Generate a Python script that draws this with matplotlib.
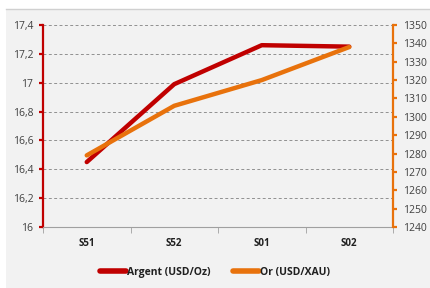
import matplotlib
matplotlib.use('Agg')
import matplotlib.pyplot as plt
from matplotlib.patches import Rectangle
from matplotlib.ticker import FuncFormatter, MultipleLocator
import numpy as np

plt.rcParams['font.family'] = ['Open Sans', 'DejaVu Sans']

# Data
periods = ['S51', 'S52', 'S01', 'S02']
argent = [16.45, 16.99, 17.26, 17.25]   # USD/Oz, left axis
gold = [1279, 1306, 1320, 1338]         # USD/XAU, right axis

RED = '#c00000'
ORANGE = '#e8720c'
TXT = '#404040'

fig = plt.figure(figsize=(4.3, 2.88), dpi=100)
fig.patch.set_facecolor('white')

# light gray chart panel with a soft top edge
fig.patches.append(Rectangle((6 / 430, 0), 1, 1 - 9 / 288, transform=fig.transFigure,
                             facecolor='#f2f2f2', edgecolor='none', zorder=-10))
fig.lines.append(plt.Line2D([6 / 430, 1], [1 - 9 / 288] * 2, transform=fig.transFigure,
                            color='#d0d0d0', linewidth=1.0, zorder=-9))

ax = fig.add_axes([43 / 430, 61 / 288, 350 / 430, 202 / 288])
ax.set_facecolor('none')
x = np.arange(len(periods))

ax.plot(x, argent, color=RED, linewidth=3.2, solid_capstyle='round',
        label='Argent (USD/Oz)', zorder=4)
ax.set_xlim(-0.5, len(periods) - 0.5)
ax.set_ylim(16, 17.4)
ax.yaxis.set_major_locator(MultipleLocator(0.2))
ax.yaxis.set_major_formatter(FuncFormatter(lambda v, p: f'{v:g}'.replace('.', ',')))
ax.grid(axis='y', linestyle=(0, (3, 2.5)), color='#909090', linewidth=0.7)
ax.set_axisbelow(True)

ax2 = ax.twinx()
ax2.plot(x, gold, color=ORANGE, linewidth=3.2, solid_capstyle='round',
         label='Or (USD/XAU)', zorder=3)
ax2.set_ylim(1240, 1350)
ax2.yaxis.set_major_locator(MultipleLocator(10))
ax2.patch.set_visible(False)
ax.set_zorder(1)
ax2.set_zorder(2)

# x axis: ticks between categories
ax.set_xticks(x)
ax.set_xticklabels(periods, fontweight='bold', fontsize=7, color='#202020')
ax.tick_params(axis='x', which='major', length=0, pad=8)
ax.set_xticks(np.arange(-0.5, len(periods)), minor=True)
ax.tick_params(axis='x', which='minor', length=4, color='#a0a0a0')

ax.spines['top'].set_visible(False)
ax2.spines['top'].set_visible(False)
ax.spines['right'].set_visible(False)
ax.spines['bottom'].set_color('#a0a0a0')
ax.spines['left'].set_color(RED)
ax.spines['left'].set_linewidth(1.6)
ax2.spines['left'].set_visible(False)
ax2.spines['bottom'].set_visible(False)
ax2.spines['right'].set_color(ORANGE)
ax2.spines['right'].set_linewidth(1.6)

ax.tick_params(axis='y', length=3, width=1.6, color=RED, labelsize=7.5,
               labelcolor=TXT, pad=4)
ax2.tick_params(axis='y', length=3, width=1.6, color=ORANGE, labelsize=7.5,
                labelcolor=TXT, pad=4)

h1, l1 = ax.get_legend_handles_labels()
h2, l2 = ax2.get_legend_handles_labels()
leg = fig.legend(h1 + h2, l1 + l2, loc='center', bbox_to_anchor=(0.5, 1 - 272 / 288),
                 ncol=2, frameon=False, fontsize=7.5, handlelength=2.5,
                 handletextpad=0.1, columnspacing=2.2)
for t in leg.get_texts():
    t.set_fontweight('bold')
    t.set_color('#202020')
for h in leg.legend_handles:
    h.set_linewidth(4)

fig.savefig('out.png', dpi=100, facecolor='white')
